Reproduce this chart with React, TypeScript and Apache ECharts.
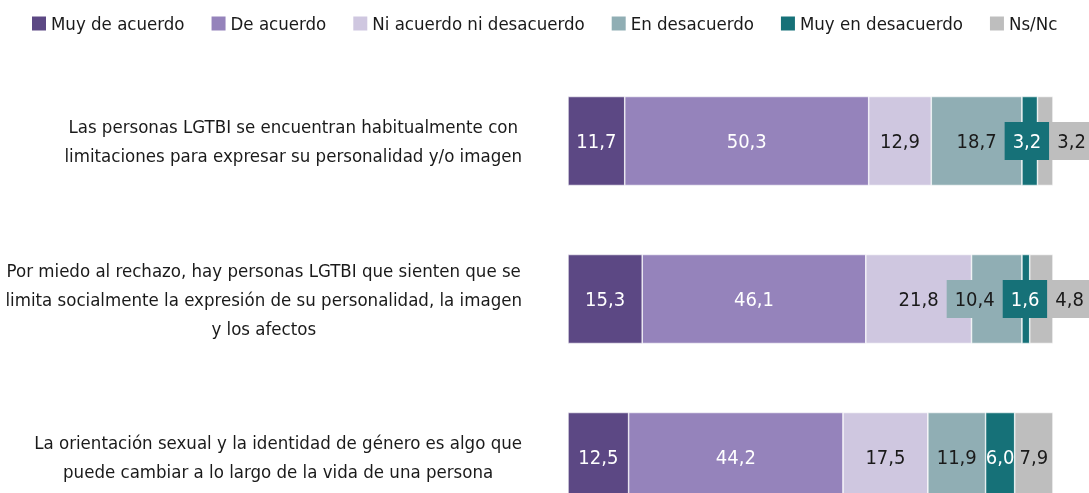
import React, { useEffect, useRef } from 'react';
import * as echarts from 'echarts';

const categories = [
  'Las personas LGTBI se encuentran habitualmente con\nlimitaciones para expresar su personalidad y/o imagen',
  'Por miedo al rechazo, hay personas LGTBI que sienten que se\nlimita socialmente la expresión de su personalidad, la imagen\ny los afectos',
  'La orientación sexual y la identidad de género es algo que\npuede cambiar a lo largo de la vida de una persona',
];
const seriesNames = [
  'Muy de acuerdo',
  'De acuerdo',
  'Ni acuerdo ni desacuerdo',
  'En desacuerdo',
  'Muy en desacuerdo',
  'Ns/Nc',
];
const muyDeAcuerdo = [11.7, 15.3, 12.5];
const deAcuerdo = [50.3, 46.1, 44.2];
const niAcuerdo = [12.9, 21.8, 17.5];
const enDesacuerdo = [18.7, 10.4, 11.9];
const muyEnDesacuerdo = [3.2, 1.6, 6.0];
const nsNc = [3.2, 4.8, 7.9];
const seriesValues = [muyDeAcuerdo, deAcuerdo, niAcuerdo, enDesacuerdo, muyEnDesacuerdo, nsNc];

const colors = ['#5c4884', '#9583bb', '#cfc7e0', '#90aeb4', '#167178', '#bebebe'];
const labelColors = ['#ffffff', '#ffffff', '#1a1a1a', '#1a1a1a', '#ffffff', '#1a1a1a'];

const FONT = "'DejaVu Sans Condensed', 'Liberation Sans Narrow', Roboto, sans-serif";
const LABEL_SIZE = 20;
const TEXT_SIZE = 18.5;
const PAD = 8;

const fmt = (v: number) => v.toFixed(1).replace('.', ',');

export default function App() {
  const ref = useRef<HTMLDivElement>(null);

  useEffect(() => {
    const el = ref.current!;
    const chart = echarts.init(el, null, { renderer: 'svg' });

    const buildSeries = (data: any[][]) =>
      seriesNames.map((name, s) => ({
        name,
        type: 'bar',
        stack: 'total',
        barWidth: 89,
        itemStyle: { color: colors[s], borderColor: '#ffffff', borderWidth: 0.6 },
        label: {
          show: true,
          position: 'inside',
          formatter: (p: any) => fmt(typeof p.value === 'number' ? p.value : Number(p.value)),
          color: labelColors[s],
          fontSize: LABEL_SIZE,
          fontFamily: FONT,
        },
        emphasis: { disabled: true },
        data: data[s],
      }));

    chart.setOption({
      animation: false,
      grid: { left: 568, right: 36, top: 62, bottom: 4, containLabel: false, outerBoundsMode: 'none' },
      legend: {
        left: 27,
        top: 9,
        itemWidth: 14,
        itemHeight: 14,
        itemGap: 27,
        icon: 'rect',
        selectedMode: false,
        itemStyle: { borderWidth: 0 },
        textStyle: { fontSize: TEXT_SIZE, fontFamily: FONT, color: '#1a1a1a' },
        data: seriesNames,
      },
      xAxis: { type: 'value', min: 0, max: 100, show: false },
      yAxis: {
        type: 'category',
        data: categories,
        inverse: true,
        axisLine: { show: false },
        axisTick: { show: false },
        splitLine: { show: false },
        axisLabel: {
          interval: 0,
          margin: 46,
          align: 'right',
          fontSize: TEXT_SIZE,
          fontFamily: FONT,
          color: '#1a1a1a',
          formatter: (v: string) =>
            v
              .split('\n')
              .map((l) => `{c|${l}}`)
              .join('\n'),
          rich: {
            c: { align: 'center', fontSize: TEXT_SIZE, fontFamily: FONT, color: '#1a1a1a', lineHeight: 29 },
          },
        },
      },
      series: buildSeries(seriesValues.map((arr) => arr.map((v) => ({ value: v })))),
    });

    // Label collision layout, derived from the library's scale
    const canvas = document.createElement('canvas');
    const ctx = canvas.getContext('2d')!;
    ctx.font = `${LABEL_SIZE}px ${FONT}`;
    const data: any[][] = seriesValues.map((arr) => arr.map((v) => ({ value: v })));

    categories.forEach((_, r) => {
      let cum = 0;
      const items = seriesValues.map((arr, s) => {
        const v = arr[r];
        const x0 = (chart.convertToPixel({ gridIndex: 0 } as any, [cum, r]) as number[])[0];
        const x1 = (chart.convertToPixel({ gridIndex: 0 } as any, [cum + v, r]) as number[])[0];
        cum += v;
        const tw = ctx.measureText(fmt(v)).width;
        return { s, c: (x0 + x1) / 2, tw, w: tw + 2 * PAD, fits: tw <= x1 - x0 + 3, boxed: false, pos: 0 };
      });
      items.forEach((it) => (it.boxed = !it.fits));
      let changed = true;
      while (changed) {
        changed = false;
        for (let i = 0; i < items.length; i++) {
          if (!items[i].boxed) continue;
          for (const j of [i - 1, i + 1]) {
            const o = items[j];
            if (!o || o.boxed) continue;
            const a0 = items[i].c - items[i].w / 2;
            const a1 = items[i].c + items[i].w / 2;
            const b0 = o.c - o.tw / 2;
            const b1 = o.c + o.tw / 2;
            if (a0 < b1 && b0 < a1) {
              o.boxed = true;
              changed = true;
            }
          }
        }
      }
      type Cl = { idx: number[]; start: number; width: number };
      const place = (cl: Cl) => {
        let off = 0;
        let sum = 0;
        cl.idx.forEach((i) => {
          sum += items[i].c - off - items[i].w / 2;
          off += items[i].w;
        });
        cl.width = off;
        cl.start = sum / cl.idx.length;
      };
      const clusters: Cl[] = [];
      for (let i = 0; i < items.length; i++) {
        if (!items[i].boxed) continue;
        let cl: Cl = { idx: [i], start: 0, width: 0 };
        place(cl);
        while (clusters.length) {
          const prev = clusters[clusters.length - 1];
          const lastIdx = prev.idx[prev.idx.length - 1];
          if (lastIdx === cl.idx[0] - 1 && prev.start + prev.width > cl.start) {
            clusters.pop();
            cl = { idx: prev.idx.concat(cl.idx), start: 0, width: 0 };
            place(cl);
          } else break;
        }
        clusters.push(cl);
      }
      clusters.forEach((cl) => {
        const first = cl.idx[0];
        const last = cl.idx[cl.idx.length - 1];
        const L = items[first - 1];
        const R = items[last + 1];
        if (R && !R.boxed) {
          const lim = R.c - R.tw / 2 - PAD;
          if (cl.start + cl.width > lim) cl.start = lim - cl.width;
        }
        const maxR = chart.getWidth();
        if (cl.start + cl.width > maxR) cl.start = maxR - cl.width;
        if (L && !L.boxed) {
          const lim = L.c + L.tw / 2 + PAD;
          if (cl.start < lim) cl.start = lim;
        }
        let off = 0;
        cl.idx.forEach((i) => {
          items[i].pos = cl.start + off + items[i].w / 2;
          off += items[i].w;
        });
      });
      items.forEach((it) => {
        if (it.boxed) {
          data[it.s][r] = {
            value: seriesValues[it.s][r],
            label: {
              offset: [it.pos - it.c, 0],
              backgroundColor: colors[it.s],
              padding: [9, PAD],
            },
          };
        }
      });
    });

    chart.setOption({ series: buildSeries(data) });

    return () => chart.dispose();
  }, []);

  return (
    <div
      ref={ref}
      style={{ position: 'fixed', left: 0, top: 0, width: 1089, height: 540 }}
    />
  );
}
